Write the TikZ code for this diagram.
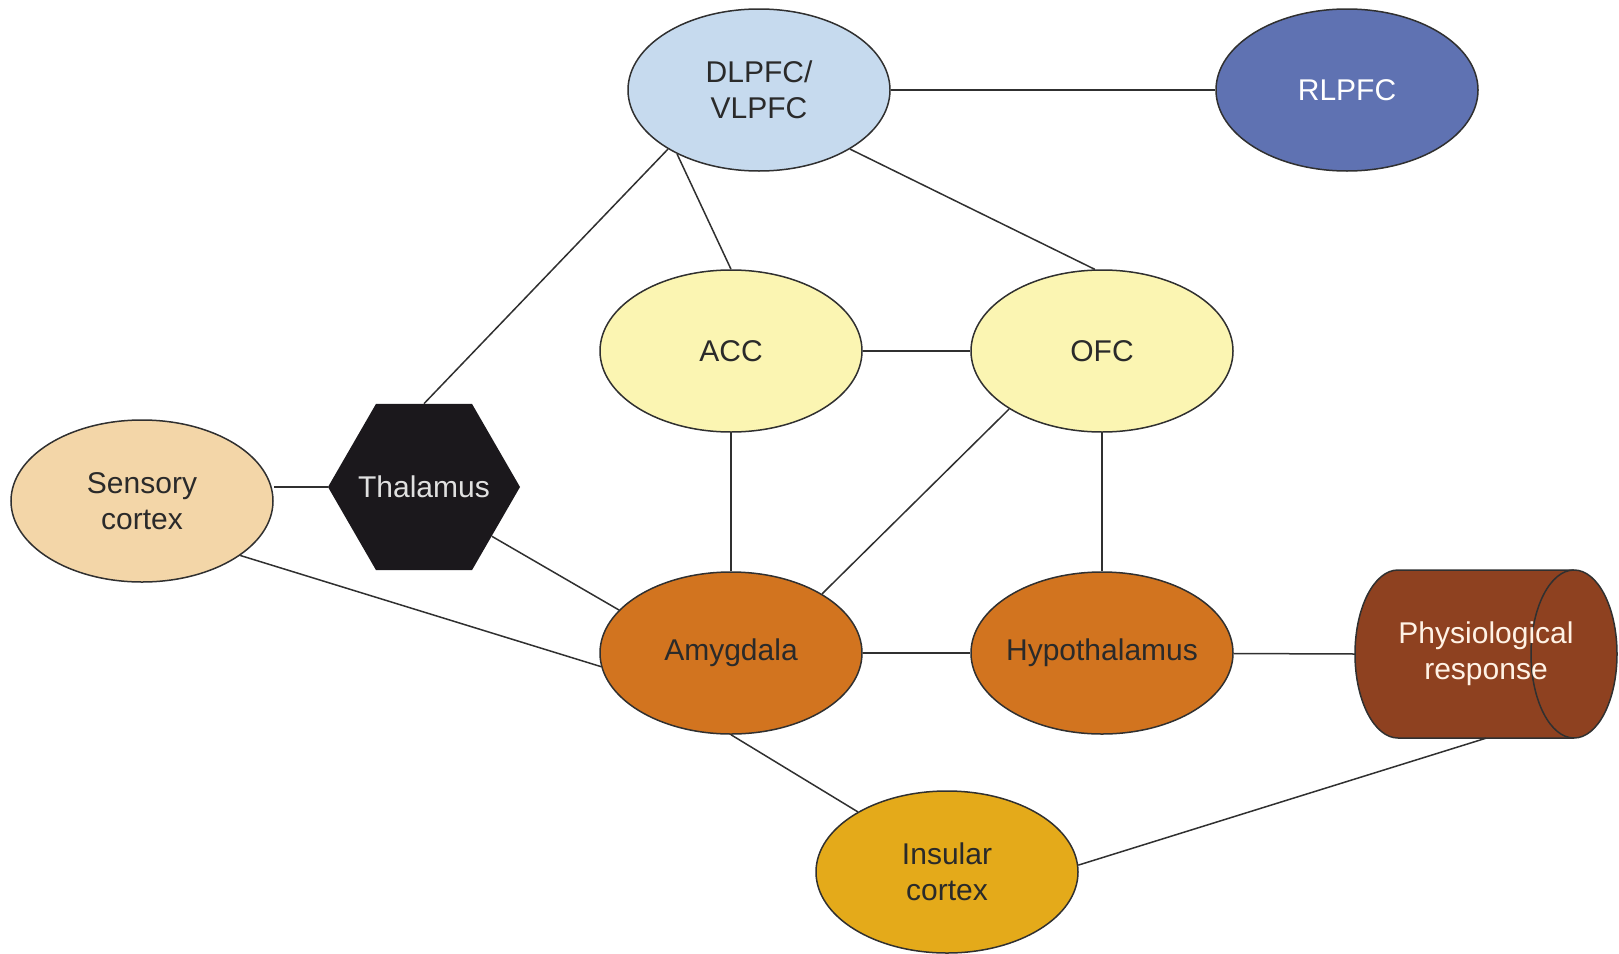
\documentclass[tikz,border=0pt]{standalone}
\usepackage{fontspec}
\setmainfont{Liberation Sans}
\usetikzlibrary{shapes.geometric}
\definecolor{cDL}{HTML}{C6DAEE}
\definecolor{cRL}{HTML}{5F72B2}
\definecolor{cYel}{HTML}{FBF5B2}
\definecolor{cSens}{HTML}{F3D6A8}
\definecolor{cThal}{HTML}{1B181C}
\definecolor{cOr}{HTML}{D2741F}
\definecolor{cIns}{HTML}{E4AA1A}
\definecolor{cPhys}{HTML}{8E4120}
\definecolor{cTxt}{HTML}{2A2A2A}
\definecolor{cLine}{HTML}{303030}
\tikzset{
  region/.style={ellipse, draw=cLine, line width=1.5pt, minimum width=262pt, minimum height=162pt,
    inner sep=0pt, align=center, text=cTxt, font=\fontsize{30}{36}\selectfont},
  link/.style={draw=cLine, line width=1.5pt},
}
\begin{document}
\begin{tikzpicture}[x=1pt,y=-1pt]
\useasboundingbox (0,0) rectangle (1619,953);
\node[region, fill=cDL] (dl) at (759,90) {DLPFC/\\VLPFC};
\node[region, fill=cRL, text=white] (rl) at (1347,90) {RLPFC};
\node[region, fill=cYel] (acc) at (731,351) {ACC};
\node[region, fill=cYel] (ofc) at (1102,351) {OFC};
\node[region, fill=cSens] (sens) at (142,501) {Sensory\\cortex};
\node[regular polygon, regular polygon sides=6, minimum size=192pt, inner sep=0pt, fill=cThal,
  text=white!88!black, font=\fontsize{30}{36}\selectfont] (th) at (424,487) {\makebox[0pt]{Thalamus}};
\node[region, fill=cOr] (amy) at (731,653) {Amygdala};
\node[region, fill=cOr] (hyp) at (1102,653) {\makebox[0pt]{Hypothalamus}};
\node[region, fill=cIns] (ins) at (947,872) {Insular\\cortex};
% cylinder
\filldraw[fill=cPhys, draw=cLine, line width=1.5pt]
  (1398,570) -- (1574,570) arc[start angle=90, end angle=-90, x radius=43pt, y radius=84pt]
  -- (1398,738) arc[start angle=270, end angle=90, x radius=43pt, y radius=84pt] -- cycle;
\draw[draw=cLine, line width=1.5pt] (1574,570) arc[start angle=90, end angle=270, x radius=43pt, y radius=84pt];
\node[minimum width=262pt, minimum height=168pt, inner sep=0pt, align=center,
  text=white!90!orange, font=\fontsize{30}{36}\selectfont] (phys) at (1486,654) {Physiological\\response};
% connectors
\draw[link] (dl) -- (rl);
\draw[link] (dl.213) -- (th.north);
\draw[link] (dl.218) -- (acc.north);
\draw[link] (dl.327) -- (ofc.95);
\draw[link] (acc) -- (ofc);
\draw[link] (acc) -- (amy);
\draw[link] (ofc) -- (hyp);
\draw[link] (ofc.212) -- (amy.33);
\draw[link] (th.west) -- (th.west -| sens.east);
\draw[link] (sens.331) -- (amy.186);
\draw[link] (th.-36) -- (amy.159);
\draw[link] (amy) -- (hyp);
\draw[link] (hyp) -- (phys.west);
\draw[link] (amy.south) -- (ins.146);
\draw[link] (ins.3) -- (phys.south);
\end{tikzpicture}
\end{document}
